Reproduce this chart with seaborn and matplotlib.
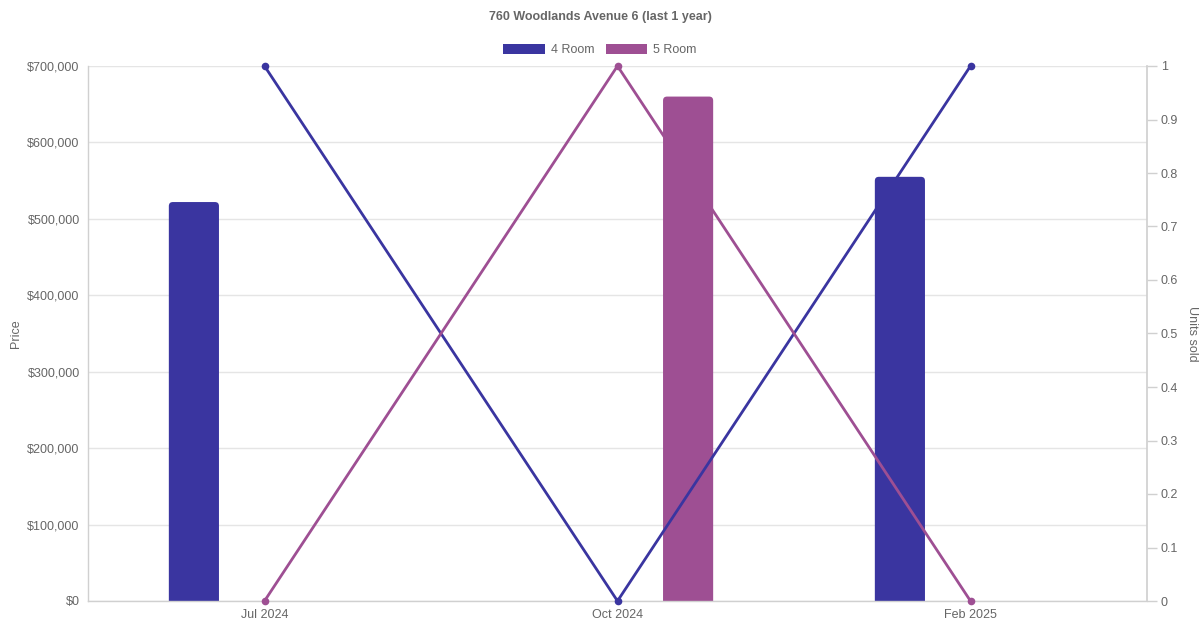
import numpy as np
import pandas as pd
import matplotlib
matplotlib.use("Agg")
import matplotlib.pyplot as plt
from matplotlib.patches import Patch, FancyBboxPatch
from matplotlib.ticker import FuncFormatter, MultipleLocator
import seaborn as sns

# --- data ---
months = ["Jul 2024", "Oct 2024", "Feb 2025"]
room_types = ["4 Room", "5 Room"]
bar_months = ["Jul 2024", "Oct 2024", "Feb 2025"]
bar_rooms = ["4 Room", "5 Room", "4 Room"]
bar_prices = [522000, 660000, 555000]
units_4room = [1, 0, 1]
units_5room = [0, 1, 0]

colors = {"4 Room": "#3a35a0", "5 Room": "#9e4f93"}
text_col = "#666666"
grid_col = "#e5e5e5"
axis_col = "#d0d0d0"

sns.set_theme(style="white")
plt.rcParams["font.family"] = ["Liberation Sans", "DejaVu Sans"]

bars_df = pd.DataFrame({"month": bar_months, "room": bar_rooms, "price": bar_prices})
lines_df = pd.DataFrame({
    "month": months * 2,
    "room": ["4 Room"] * 3 + ["5 Room"] * 3,
    "units": units_4room + units_5room,
})
lines_df["pos"] = lines_df["month"].map({m: i for i, m in enumerate(months)})

fig = plt.figure(figsize=(12, 6.3), dpi=100)
ax = fig.add_axes([88 / 1200, 29 / 630, (1147 - 88) / 1200, (601 - 66) / 630])

sns.barplot(data=bars_df, x="month", y="price", hue="room", order=months,
            hue_order=room_types, palette=colors, dodge=True, gap=0.645,
            width=0.8, saturation=1, ax=ax, legend=False, errorbar=None)

ax.set_ylim(0, 700000)
ax.set_xlim(-0.5, 2.5)

# rounded top corners, like the original chart (about 4 px radius)
px_x = 3.0 / (1147 - 88)
px_y = 700000 / (601 - 66)
r = 4 * px_x
for bar in list(ax.patches):
    h = bar.get_height()
    if not np.isfinite(h) or h <= 0:
        continue
    x0, w = bar.get_x(), bar.get_width()
    fb = FancyBboxPatch((x0, -6 * px_y), w, h + 6 * px_y,
                        boxstyle=f"round,pad=0,rounding_size={r}",
                        mutation_aspect=px_y / px_x,
                        facecolor=bar.get_facecolor(), edgecolor="none",
                        zorder=bar.get_zorder())
    bar.remove()
    ax.add_patch(fb)

ax.yaxis.set_major_locator(MultipleLocator(100000))
ax.yaxis.set_major_formatter(FuncFormatter(lambda v, p: f"${int(v):,}"))
ax.grid(axis="y", color=grid_col, linewidth=1)
ax.set_axisbelow(True)
for side in ["top", "right"]:
    ax.spines[side].set_visible(False)
for side in ["left", "bottom"]:
    ax.spines[side].set_color(axis_col)
    ax.spines[side].set_linewidth(1)
    ax.spines[side].set_zorder(5)
ax.tick_params(axis="both", length=0, labelsize=9, colors=text_col, pad=6)
ax.set_xlabel("")
ax.set_ylabel("Price", fontsize=9, color=text_col, labelpad=4)

ax2 = ax.twinx()
for room in room_types:
    sub = lines_df[lines_df["room"] == room]
    sns.lineplot(data=sub, x="pos", y="units", color=colors[room], linewidth=2.0,
                 marker="o", markersize=5.5, markeredgewidth=0, ax=ax2,
                 legend=False, errorbar=None, clip_on=False)
ax2.set_ylim(0, 1)
ax2.set_xlim(-0.5, 2.5)
ax2.yaxis.set_major_locator(MultipleLocator(0.1))
ax2.yaxis.set_major_formatter(FuncFormatter(lambda v, p: f"{v:.1f}".rstrip("0").rstrip(".") if v else "0"))
for side in ["top", "left", "bottom"]:
    ax2.spines[side].set_visible(False)
ax2.spines["right"].set_color(axis_col)
ax2.tick_params(axis="y", length=7, width=1, color=axis_col, labelsize=9,
                colors=text_col, pad=3)
ax2.tick_params(axis="y", which="major", color=axis_col)
ax2.set_ylabel("Units sold", fontsize=9, color=text_col, rotation=270, labelpad=14)
ax2.grid(False)
for lbl in ax2.get_yticklabels():
    lbl.set_color(text_col)

fig.text(0.5, 1 - 17 / 630, "760 Woodlands Avenue 6 (last 1 year)", ha="center",
         va="center", fontsize=9, fontweight="bold", color=text_col)

handles = [Patch(facecolor=colors[r], edgecolor="none", label=r) for r in room_types]
fig.legend(handles=handles, loc="center", bbox_to_anchor=(0.5, 1 - 50 / 630),
           ncol=2, frameon=False, fontsize=9, labelcolor=text_col,
           handlelength=3.3, handleheight=0.9, handletextpad=0.5, columnspacing=0.9)

fig.savefig("out.png", dpi=100)
